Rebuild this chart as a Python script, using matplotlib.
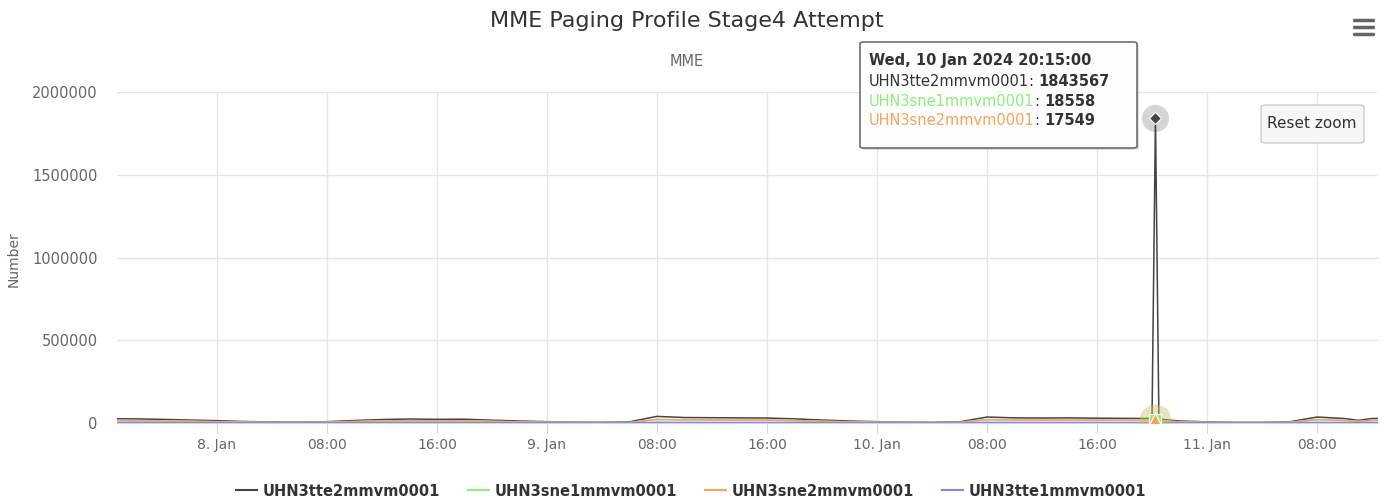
import matplotlib.pyplot as plt
import matplotlib.dates as mdates
import numpy as np
from matplotlib.patches import FancyBboxPatch
from matplotlib.lines import Line2D
from matplotlib.ticker import FuncFormatter

W, H = 1382, 501

# ---- data ----
times = [
    "2024-01-07 16:00", "2024-01-07 18:00", "2024-01-07 20:00", "2024-01-07 22:00",
    "2024-01-08 00:00", "2024-01-08 02:00", "2024-01-08 04:00", "2024-01-08 06:00",
    "2024-01-08 08:00", "2024-01-08 10:00", "2024-01-08 12:00", "2024-01-08 14:00",
    "2024-01-08 16:00", "2024-01-08 18:00", "2024-01-08 20:00", "2024-01-08 22:00",
    "2024-01-09 00:00", "2024-01-09 02:00", "2024-01-09 04:00", "2024-01-09 06:00",
    "2024-01-09 08:00", "2024-01-09 10:00", "2024-01-09 12:00", "2024-01-09 14:00",
    "2024-01-09 16:00", "2024-01-09 18:00", "2024-01-09 20:00", "2024-01-09 22:00",
    "2024-01-10 00:00", "2024-01-10 02:00", "2024-01-10 04:00", "2024-01-10 06:00",
    "2024-01-10 08:00", "2024-01-10 10:00", "2024-01-10 12:00", "2024-01-10 14:00",
    "2024-01-10 16:00", "2024-01-10 18:00", "2024-01-10 20:00", "2024-01-10 20:15",
    "2024-01-10 20:30", "2024-01-10 22:00",
    "2024-01-11 00:00", "2024-01-11 02:00", "2024-01-11 04:00", "2024-01-11 06:00",
    "2024-01-11 08:00", "2024-01-11 10:00", "2024-01-11 11:00", "2024-01-11 12:00",
    "2024-01-11 13:00",
]

tte2 = [26000, 25000, 22000, 18000,
        14000, 9000, 6000, 5000, 8000, 15000, 21000, 24000, 22000, 23000, 17000, 12000,
        8000, 5000, 4000, 7000, 40000, 33000, 32000, 31000, 30000, 25000, 18000, 12000,
        8000, 5000, 4000, 7000, 36000, 31000, 30000, 31000, 29000, 28000,
        27000, 1843567, 24000, 12000,
        7000, 4000, 4000, 7000, 36000, 27000, 16000, 27000, 28000]
sne1 = [15000, 14500, 13000, 10500,
        8000, 5500, 3500, 3000, 5000, 9000, 12500, 14000, 13500, 13500, 10000, 7000,
        5000, 3000, 2500, 3500, 22000, 19500, 19000, 18500, 18000, 15000, 10500, 7000,
        5000, 3000, 2500, 4000, 21000, 18500, 18000, 18500, 17500, 17000,
        16500, 18558, 14500, 7000,
        4000, 2500, 2500, 4000, 21500, 16000, 10000, 16000, 16500]
sne2 = [14000, 13500, 12000, 10000,
        7500, 5000, 3500, 3000, 4500, 8500, 12000, 13000, 12500, 12500, 9500, 6500,
        4500, 3000, 2500, 3500, 20500, 18500, 18000, 17500, 17000, 14000, 10000, 6500,
        4500, 3000, 2500, 3500, 20000, 17500, 17000, 17500, 16500, 16000,
        15500, 17549, 13500, 6500,
        4000, 2500, 2500, 3500, 20000, 15000, 9500, 15000, 15500]
tte1 = [3000, 3000, 2500, 2000,
        1500, 1000, 800, 700, 1000, 1800, 2500, 2800, 2600, 2700, 2000, 1500,
        1000, 700, 600, 800, 4000, 3500, 3400, 3300, 3200, 2800, 2000, 1400,
        1000, 700, 600, 900, 3800, 3300, 3200, 3300, 3100, 3000,
        2900, 3000, 2700, 1400,
        900, 600, 600, 900, 3800, 3000, 1800, 3000, 3100]

series_names = ["UHN3tte2mmvm0001", "UHN3sne1mmvm0001", "UHN3sne2mmvm0001", "UHN3tte1mmvm0001"]
series_values = [tte2, sne1, sne2, tte1]
colors = ["#434348", "#90ed7d", "#f7a35c", "#8085e9"]

tooltip_header = "Wed, 10 Jan 2024 20:15:00"
tooltip_names = series_names[:3]
tooltip_values = [1843567, 18558, 17549]

yticks = [0, 500000, 1000000, 1500000, 2000000]

t = np.array(times, dtype="datetime64[m]")

fig = plt.figure(figsize=(W / 100, H / 100), dpi=100)
ax = fig.add_axes([117 / W, 1 - 423 / H, (1378 - 117) / W, (423 - 92) / H])

for name, vals, c in zip(series_names, series_values, colors):
    ax.plot(t, vals, color=c, lw=1.1, label=name, solid_joinstyle="round")

# hover markers at the spike
k = int(np.argmax(tte2))
ax.scatter([t[k]], [tte2[k]], s=380, color="#434348", alpha=0.22, lw=0, zorder=4)
ax.scatter([t[k]], [sne1[k]], s=520, color="#90ed7d", alpha=0.25, lw=0, zorder=4)
ax.scatter([t[k]], [sne2[k]], s=520, color="#f7a35c", alpha=0.25, lw=0, zorder=4)
ax.plot([t[k]], [tte2[k]], marker="D", ms=6.5, color="#434348", mec="white", mew=0.8, zorder=5)
ax.plot([t[k]], [sne1[k]], marker="s", ms=8, color="#90ed7d", mec="white", mew=0.8, zorder=5)
ax.plot([t[k]], [sne2[k]], marker="^", ms=10, color="#f7a35c", mec="white", mew=0.8, zorder=6)

ax.set_xlim(np.datetime64("2024-01-07T16:44"), np.datetime64("2024-01-11T12:26"))
ax.set_ylim(0, 2000000)
ax.set_yticks(yticks)
ax.yaxis.set_major_formatter(FuncFormatter(lambda v, p: "%d" % v))

ax.xaxis.set_major_locator(mdates.HourLocator(byhour=[0, 8, 16]))


def fmt_x(v, p):
    d = mdates.num2date(v)
    if d.hour == 0:
        return "%d. Jan" % d.day
    return d.strftime("%H:%M")


ax.xaxis.set_major_formatter(FuncFormatter(fmt_x))

ax.grid(True, color="#e6e6e6", lw=1)
ax.set_axisbelow(True)
for s in ["left", "right", "top"]:
    ax.spines[s].set_visible(False)
ax.spines["bottom"].set_color("#ccd6eb")
ax.tick_params(axis="x", length=7, color="#ccd6eb", labelcolor="#666666", labelsize=10, pad=4)
ax.tick_params(axis="y", length=0, labelcolor="#666666", labelsize=10.5, pad=14)

# titles
fig.text(687 / W, 1 - 21 / H, "MME Paging Profile Stage4 Attempt", ha="center", va="center",
         fontsize=16, color="#333333")
fig.text(687 / W, 1 - 62 / H, "MME", ha="center", va="center", fontsize=10.5, color="#666666")
fig.text(14 / W, 1 - 259 / H, "Number", ha="center", va="center", rotation=90,
         fontsize=10, color="#666666")

# legend
leg = fig.legend(loc="center", bbox_to_anchor=(0.5, 1 - 491 / H), ncol=4, frameon=False,
                 prop={"weight": "bold", "size": 10.5}, handlelength=1.45, columnspacing=1.9,
                 handletextpad=0.4)
for txt in leg.get_texts():
    txt.set_color("#333333")
for ln in leg.get_lines():
    ln.set_linewidth(1.5)

# hamburger menu
for yy in [20, 27, 34]:
    fig.add_artist(Line2D([1354 / W, 1373 / W], [1 - yy / H, 1 - yy / H], lw=2.5,
                          color="#666666", solid_capstyle="round"))

# reset zoom button
fig.add_artist(FancyBboxPatch((1261 / W, 1 - 143 / H), 103 / W, 38 / H,
                              boxstyle="round,pad=0,rounding_size=0.004",
                              fc="#f7f7f7", ec="#cccccc", lw=1))
fig.text(1312 / W, 1 - 123 / H, "Reset zoom", ha="center", va="center", fontsize=11,
         color="#333333")

# tooltip
fig.add_artist(FancyBboxPatch((862 / W, 1 - 150 / H), 277 / W, 106 / H,
                              boxstyle="round,pad=0,rounding_size=0.003",
                              fc="#000000", ec="none", alpha=0.12))
fig.add_artist(FancyBboxPatch((860 / W, 1 - 148 / H), 277 / W, 106 / H,
                              boxstyle="round,pad=0,rounding_size=0.003",
                              fc="#ffffff", ec="#666666", lw=1.2, alpha=0.95))
fig.text(869 / W, 1 - 60 / H, tooltip_header, ha="left", va="center", fontsize=10.5,
         weight="bold", color="#333333")
fig.canvas.draw()
r = fig.canvas.get_renderer()
for i, (nm, val) in enumerate(zip(tooltip_names, tooltip_values)):
    yy = 1 - (81 + 20 * i) / H
    tc = "#333333" if i == 0 else colors[i]
    t1 = fig.text(869 / W, yy, nm, ha="left", va="center", fontsize=10.5, color=tc)
    bb = t1.get_window_extent(r)
    t2 = fig.text(bb.x1 / W, yy, ": ", ha="left", va="center", fontsize=10.5, color="#333333")
    bb2 = t2.get_window_extent(r)
    fig.text(bb2.x1 / W, yy, str(val), ha="left", va="center", fontsize=10.5,
             weight="bold", color="#333333")

fig.savefig("out.png", dpi=100)
